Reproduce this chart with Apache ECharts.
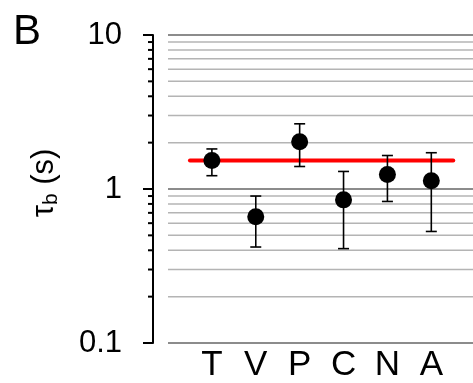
<!DOCTYPE html>
<html>
<head>
<meta charset="utf-8">
<script src="https://cdn.jsdelivr.net/npm/echarts@6/dist/echarts.min.js"></script>
<style>
  html, body { margin: 0; padding: 0; background: #fff; }
  #chart { width: 473px; height: 383px; }
</style>
</head>
<body>
<div id="chart"></div>
<script>
// Binding time per group (seconds), mean with error-bar limits
const categories = ['T', 'V', 'P', 'C', 'N', 'A'];
const means = [1.53, 0.66, 2.03, 0.85, 1.24, 1.13];
const upper = [1.82, 0.90, 2.65, 1.30, 1.65, 1.72];
const lower = [1.22, 0.42, 1.40, 0.41, 0.83, 0.53];
const referenceValue = 1.53;
const yTicks = [0.1, 1, 10];
const minorValues = [0.2, 0.3, 0.4, 0.5, 0.6, 0.7, 0.8, 0.9, 2, 3, 4, 5, 6, 7, 8, 9];

const FONT = '"Liberation Sans", Arial, Helvetica, sans-serif';
const AXIS_OFFSET = 15;

const chart = echarts.init(document.getElementById('chart'));

const pointData = means.map((v, i) => [i, v]);
const errorData = means.map((v, i) => [i, lower[i], upper[i]]);

chart.setOption({
  animation: false,
  backgroundColor: '#fff',
  grid: { left: 168, right: 0, top: 35, bottom: 40, containLabel: false },
  xAxis: {
    type: 'value',
    min: -1,
    max: 5.95,
    interval: 1,
    axisLine: { show: false },
    axisTick: { show: false },
    splitLine: { show: false },
    axisLabel: {
      showMaxLabel: false,
      margin: 5,
      fontFamily: FONT,
      fontSize: 35,
      color: '#000',
      formatter: v => (v >= 0 && v < categories.length ? categories[v] : '')
    }
  },
  yAxis: {
    type: 'log',
    logBase: 10,
    min: 0.1,
    max: 10,
    offset: AXIS_OFFSET,
    axisLine: { show: true, onZero: false, lineStyle: { color: '#000', width: 2 } },
    axisTick: { show: true, inside: false, length: 10, lineStyle: { color: '#000', width: 2 } },
    axisLabel: {
      margin: 31,
      fontFamily: FONT,
      fontSize: 31,
      color: '#000',
      formatter: v => {
        const hit = yTicks.find(t => Math.abs(t - v) / t < 1e-6);
        return hit === undefined ? '' : String(hit);
      }
    },
    splitLine: { show: true, lineStyle: { color: '#8c8c8c', width: 2 } }
  },
  graphic: [
    {
      type: 'text',
      left: 13,
      top: 11,
      style: { text: 'B', font: '42px ' + FONT, fill: '#000' }
    },
    {
      type: 'text',
      x: 44,
      y: 183,
      rotation: Math.PI / 2,
      style: {
        text: '{t|τ}{s|b}{n| (s)}',
        align: 'center',
        verticalAlign: 'middle',
        fill: '#000',
        rich: {
          t: { fontFamily: FONT, fontSize: 31, fill: '#000', verticalAlign: 'middle' },
          s: { fontFamily: FONT, fontSize: 21, fill: '#000', verticalAlign: 'bottom', padding: [14, 0, 0, 0] },
          n: { fontFamily: FONT, fontSize: 31, fill: '#000', verticalAlign: 'middle' }
        }
      }
    }
  ],
  series: [
    {
      // light minor grid lines and the short minor ticks on the y axis
      type: 'custom',
      silent: true,
      z: 1,
      clip: false,
      data: minorValues.map(v => [0, v]),
      renderItem: (params, api) => {
        const y = api.coord([0, api.value(1)])[1];
        const left = params.coordSys.x;
        const right = params.coordSys.x + params.coordSys.width;
        const axisX = left - AXIS_OFFSET;
        return {
          type: 'group',
          children: [
            {
              type: 'line',
              shape: { x1: left, y1: y, x2: right, y2: y },
              style: { stroke: '#b4b4b4', lineWidth: 1.5 }
            },
            {
              type: 'line',
              shape: { x1: axisX - 5, y1: y, x2: axisX, y2: y },
              style: { stroke: '#000', lineWidth: 2 }
            }
          ]
        };
      }
    },
    {
      // reference level across all groups
      type: 'line',
      data: [[-0.5, referenceValue], [5.5, referenceValue]],
      symbol: 'none',
      z: 3,
      lineStyle: { color: '#ff0000', width: 4, cap: 'round' }
    },
    {
      // error bars with caps
      type: 'custom',
      z: 4,
      data: errorData,
      renderItem: (params, api) => {
        const x = api.value(0);
        const top = api.coord([x, api.value(2)]);
        const bot = api.coord([x, api.value(1)]);
        const half = 5.5;
        const st = { stroke: '#000', lineWidth: 1.6 };
        return {
          type: 'group',
          children: [
            { type: 'line', shape: { x1: top[0], y1: top[1], x2: bot[0], y2: bot[1] }, style: st },
            { type: 'line', shape: { x1: top[0] - half, y1: top[1], x2: top[0] + half, y2: top[1] }, style: st },
            { type: 'line', shape: { x1: bot[0] - half, y1: bot[1], x2: bot[0] + half, y2: bot[1] }, style: st }
          ]
        };
      }
    },
    {
      type: 'scatter',
      z: 5,
      data: pointData,
      symbol: 'circle',
      symbolSize: 17,
      itemStyle: { color: '#000', opacity: 1 }
    }
  ]
});
</script>
</body>
</html>
